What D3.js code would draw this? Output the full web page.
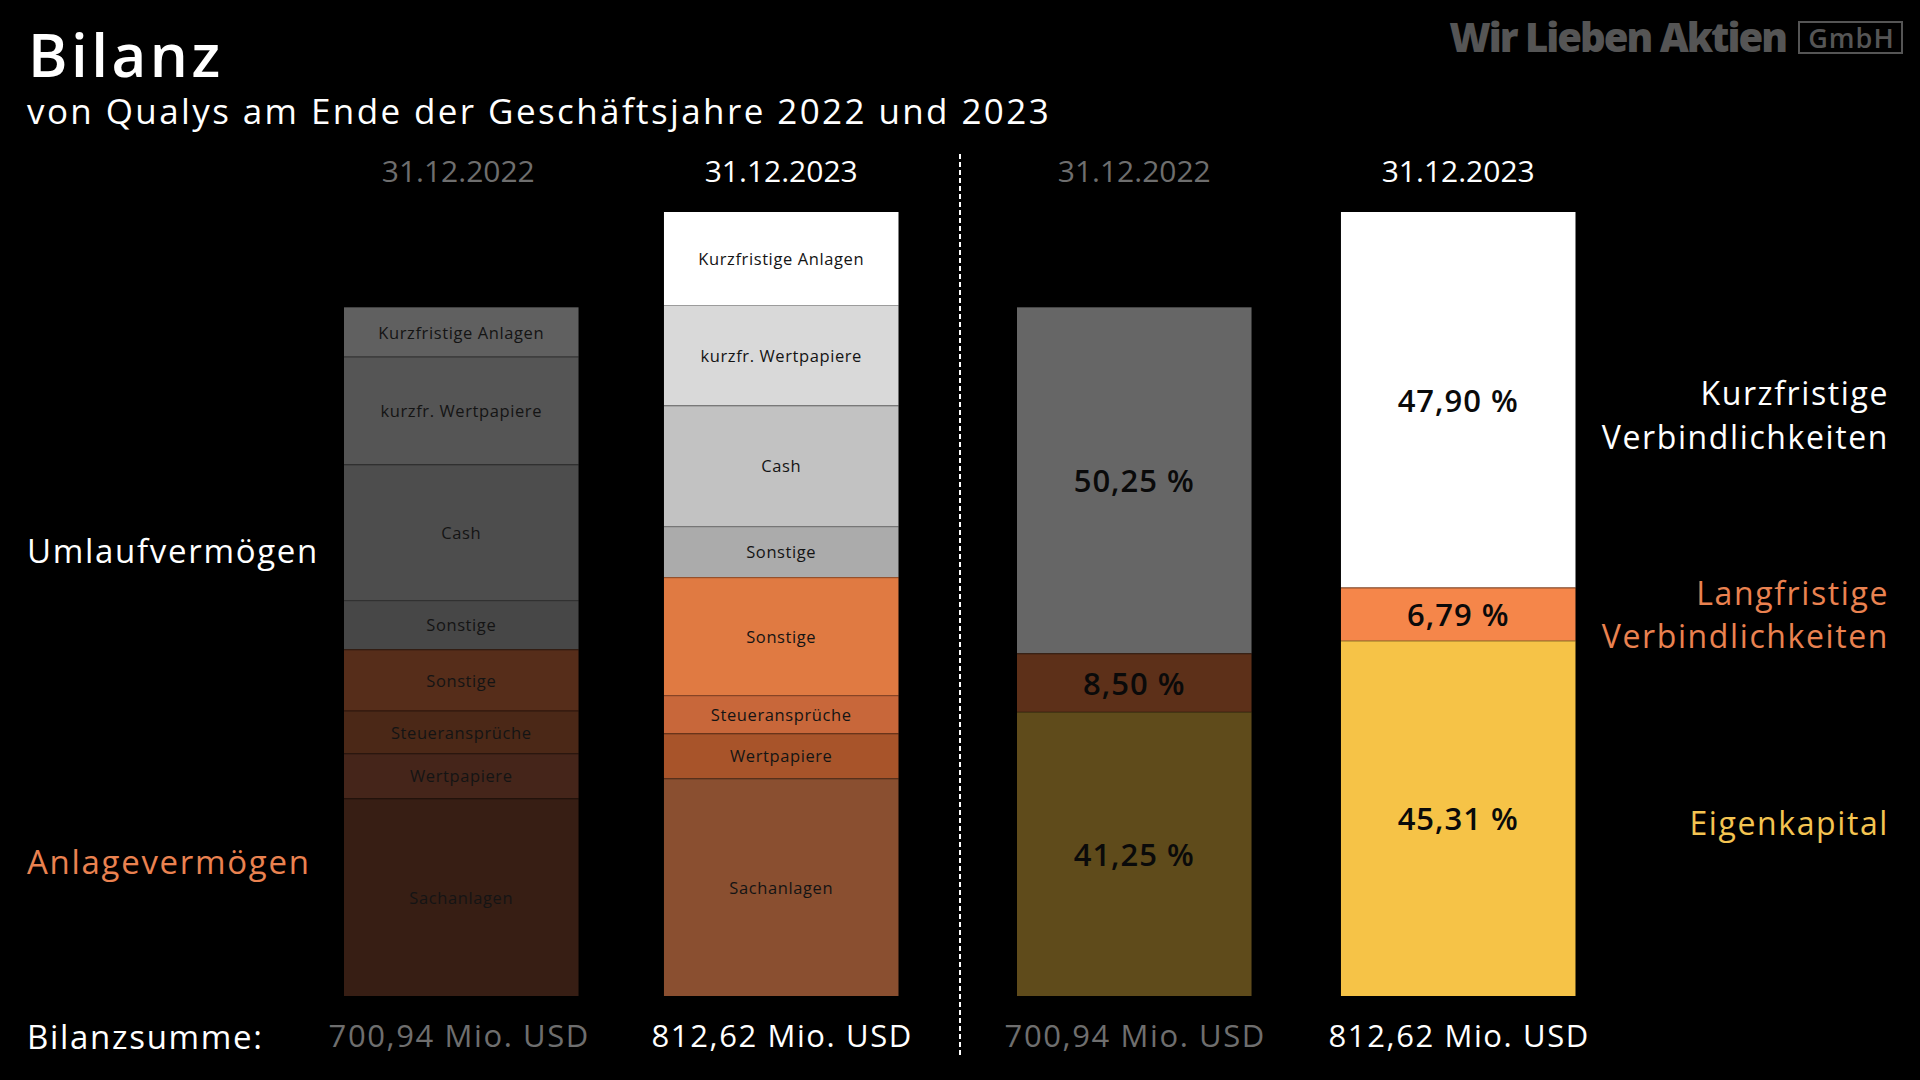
<!DOCTYPE html>
<html><head><meta charset="utf-8">
<script src="https://cdn.jsdelivr.net/npm/d3@7"></script>
<style>html,body{margin:0;background:#000;} svg{display:block}</style>
</head><body><svg id="chart" width="1920" height="1080"></svg>
<script>
// ---------- data ----------
const titleText = "Bilanz";
const subtitleText = "von Qualys am Ende der Geschäftsjahre 2022 und 2023";
const years = ["31.12.2022", "31.12.2023"];
const totalsMio = [700.94, 812.62];
const assetCategories = ["Kurzfristige Anlagen", "kurzfr. Wertpapiere", "Cash", "Sonstige", "Sonstige", "Steueransprüche", "Wertpapiere", "Sachanlagen"];
const assets2022 = [51.2, 111.5, 140.7, 51.1, 63.6, 44.2, 46.6, 204.9];
const assets2023 = [96.4, 104.0, 125.1, 52.9, 122.3, 39.7, 46.6, 225.6];
const liabilityCategories = ["Kurzfristige Verbindlichkeiten", "Langfristige Verbindlichkeiten", "Eigenkapital"];
const liabilityShares2022 = [50.25, 8.50, 41.25];
const liabilityShares2023 = [47.90, 6.79, 45.31];
const assetGroupLabels = ["Umlaufvermögen", "Anlagevermögen"];
const totalLabel = "Bilanzsumme:";

// ---------- styles ----------
const assetColors2022 = ["#606060", "#555555", "#4d4d4d", "#474747", "#562d1a", "#4b2817", "#45251a", "#371e14"];
const assetColors2023 = ["#ffffff", "#d9d9d9", "#c2c2c2", "#ababab", "#e07a42", "#c8673a", "#a8542a", "#8a4f30"];
const liabColors2022 = ["#666666", "#5d3019", "#5f4b1b"];
const liabColors2023 = ["#ffffff", "#f5864a", "#f6c347"];
const liabLabelColors = ["#ffffff", "#ea8250", "#f4c451"];
const greyText = "#6e6e6e";
const FONT = "'Open Sans', 'Noto Sans', sans-serif";

const de = d3.formatLocale({decimal: ",", thousands: ".", grouping: [3], currency: ["", " €"]});
const f2 = de.format(".2f");

const svg = d3.select("#chart").style("font-family", FONT);
svg.append("rect").attr("width", 1920).attr("height", 1080).attr("fill", "#000");

// scales
const baseY = 996;
const y = d3.scaleLinear().domain([0, d3.sum(assets2023)]).range([baseY, 212]);
const xAssets = d3.scaleBand().domain(years).range([344, 898.5]).paddingInner(0.267).paddingOuter(0);
const xLiab = d3.scaleBand().domain(years).range([1017, 1575.5]).paddingInner(0.276).paddingOuter(0);

function stack(values) {
  // first value on top, last at bottom
  const out = [];
  let acc = 0;
  for (let i = values.length - 1; i >= 0; i--) {
    out[i] = {v0: acc, v1: acc + values[i], i};
    acc += values[i];
  }
  return out;
}

function drawBar(x, values, colors, labels, labelStyle) {
  const segs = stack(values);
  const bw = xAssets.bandwidth();
  const g = svg.append("g");
  g.selectAll("rect.seg").data(segs).join("rect").attr("class", "seg")
    .attr("x", x).attr("width", bw)
    .attr("y", d => y(d.v1)).attr("height", d => y(d.v0) - y(d.v1))
    .attr("fill", (d) => colors[d.i]);
  // separators
  g.selectAll("line.sep").data(segs.filter(d => d.i > 0)).join("line").attr("class", "sep")
    .attr("x1", x).attr("x2", x + bw)
    .attr("y1", d => y(d.v1) + 0.5).attr("y2", d => y(d.v1) + 0.5)
    .attr("stroke", "rgba(0,0,0,0.28)").attr("stroke-width", 1.2);
  g.selectAll("text.lbl").data(segs).join("text").attr("class", "lbl")
    .attr("x", x + bw / 2).attr("y", d => (y(d.v0) + y(d.v1)) / 2)
    .attr("text-anchor", "middle").attr("dominant-baseline", "central")
    .attr("font-size", labelStyle.size).attr("font-weight", labelStyle.weight)
    .attr("letter-spacing", labelStyle.ls)
    .attr("fill", labelStyle.fill)
    .text(d => labels[d.i]);
  return segs;
}

const assetLabelStyle = {size: 16.5, weight: 500, fill: "#141414", ls: 0.6};
drawBar(xAssets(years[0]), assets2022, assetColors2022, assetCategories, assetLabelStyle);
drawBar(xAssets(years[1]), assets2023, assetColors2023, assetCategories, assetLabelStyle);

const liabVals2022 = liabilityShares2022.map(s => s / 100 * d3.sum(assets2022));
const liabVals2023 = liabilityShares2023.map(s => s / 100 * d3.sum(assets2023));
const pctStyle = {size: 31, weight: 600, fill: "#0a0a0a", ls: 1};
drawBar(xLiab(years[0]), liabVals2022, liabColors2022, liabilityShares2022.map(v => f2(v) + " %"), pctStyle);
drawBar(xLiab(years[1]), liabVals2023, liabColors2023, liabilityShares2023.map(v => f2(v) + " %"), pctStyle);

// date headers and totals
const cols = [
  {x: xAssets(years[0]) + xAssets.bandwidth() / 2 - 3, yi: 0},
  {x: xAssets(years[1]) + xAssets.bandwidth() / 2, yi: 1},
  {x: xLiab(years[0]) + xLiab.bandwidth() / 2, yi: 0},
  {x: xLiab(years[1]) + xLiab.bandwidth() / 2, yi: 1}
];
svg.selectAll("text.date").data(cols).join("text").attr("class", "date")
  .attr("x", d => d.x).attr("y", 182).attr("text-anchor", "middle")
  .attr("font-size", 30).attr("font-weight", d => d.yi ? 500 : 400)
  .attr("fill", d => d.yi ? "#ffffff" : greyText)
  .text(d => years[d.yi]);
svg.selectAll("text.total").data(cols).join("text").attr("class", "total")
  .attr("x", d => d.x + 1).attr("y", 1047).attr("text-anchor", "middle")
  .attr("font-size", 31).attr("font-weight", 400).attr("letter-spacing", 1.6)
  .attr("fill", d => d.yi ? "#ffffff" : greyText)
  .text(d => f2(totalsMio[d.yi]) + " Mio. USD");

// divider
svg.append("line").attr("x1", 960).attr("x2", 960).attr("y1", 154).attr("y2", 1056)
  .attr("stroke", "#ffffff").attr("stroke-width", 2).attr("stroke-dasharray", "5,3");

// title
svg.append("text").attr("x", 28).attr("y", 77).attr("font-size", 60).attr("font-weight", 600)
  .attr("letter-spacing", 3.5).attr("fill", "#fff").text(titleText);
svg.append("text").attr("x", 27).attr("y", 124).attr("font-size", 35).attr("font-weight", 400)
  .attr("letter-spacing", 2.4).attr("fill", "#fff").text(subtitleText);

// logo
const logo = svg.append("g").attr("fill", "#555555");
logo.append("text").attr("x", 1786).attr("y", 52).attr("text-anchor", "end")
  .attr("font-size", 40).attr("font-weight", 800).attr("letter-spacing", -2).text("Wir Lieben Aktien");
logo.append("rect").attr("x", 1799).attr("y", 22).attr("width", 103).attr("height", 31)
  .attr("fill", "none").attr("stroke", "#555555").attr("stroke-width", 2);
logo.append("text").attr("x", 1851.5).attr("y", 48).attr("text-anchor", "middle")
  .attr("font-size", 27).attr("font-weight", 600).attr("letter-spacing", 1).text("GmbH");

// left group labels
const leftLabels = [
  {t: assetGroupLabels[0], y: 563, c: "#ffffff"},
  {t: assetGroupLabels[1], y: 874, c: "#ea8250"},
  {t: totalLabel, y: 1049, c: "#ffffff"}
];
svg.selectAll("text.left").data(leftLabels).join("text").attr("class", "left")
  .attr("x", 27).attr("y", d => d.y).attr("font-size", 33).attr("font-weight", 400)
  .attr("letter-spacing", 1.7).attr("fill", d => d.c).text(d => d.t);

// right labels
const rightBaselines = [[405, 449], [605, 648], [835]];
liabilityCategories.forEach((name, i) => {
  const words = name.split(" ");
  const t = svg.append("text").attr("x", 1889).attr("text-anchor", "end")
    .attr("font-size", 32).attr("font-weight", 400).attr("letter-spacing", 1.6)
    .attr("fill", liabLabelColors[i]);
  words.forEach((w, k) => {
    t.append("tspan").attr("x", 1889).attr("y", rightBaselines[i][k]).text(w);
  });
});
</script>
</body></html>
